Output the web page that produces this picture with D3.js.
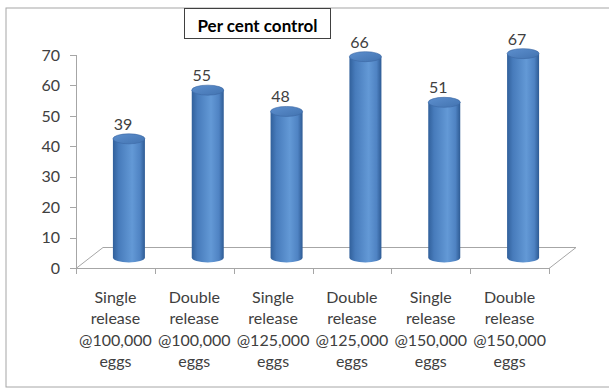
<!DOCTYPE html>
<html>
<head>
<meta charset="utf-8">
<script src="https://cdn.jsdelivr.net/npm/d3@7"></script>
<style>
  body { margin: 0; background: #fff; }
  svg { display: block; font-family: Lato, "Open Sans", sans-serif; }
</style>
</head>
<body>
<svg id="chart" width="609" height="389"></svg>
<script>
// data
const categories = [
    ["Single", "release", "@100,000", "eggs"],
    ["Double", "release", "@100,000", "eggs"],
    ["Single", "release", "@125,000", "eggs"],
    ["Double", "release", "@125,000", "eggs"],
    ["Single", "release", "@150,000", "eggs"],
    ["Double", "release", "@150,000", "eggs"]
];
const values = [39, 55, 48, 66, 51, 67];
const yTicks = [0, 10, 20, 30, 40, 50, 60, 70];
const title = "Per cent control";

const svg = d3.select("#chart");
const depth = { dx: 27, dy: -21 };   // 3d floor offset

const x = d3.scaleBand()
    .domain(d3.range(categories.length))
    .range([76, 549])
    .padding(0);

const y = d3.scaleLinear()
    .domain([0, 70])
    .range([268, 55]);

// outer frame
svg.append("rect")
    .attr("x", 6).attr("y", 8)
    .attr("width", 612).attr("height", 379)
    .attr("fill", "#fff")
    .attr("stroke", "#a6a6a6");

// gradients for cylinders
const defs = svg.append("defs");
const side = defs.append("linearGradient").attr("id", "side")
    .attr("x1", "0%").attr("x2", "100%").attr("y1", "0%").attr("y2", "0%");
[["0%", "#31609b"], ["18%", "#477bbb"], ["60%", "#6399d6"], ["85%", "#4f83c3"], ["100%", "#2e5b94"]]
    .forEach(([o, c]) => side.append("stop").attr("offset", o).attr("stop-color", c));
const topG = defs.append("linearGradient").attr("id", "topcap")
    .attr("x1", "0%").attr("x2", "100%").attr("y1", "0%").attr("y2", "100%");
[["0%", "#5d8fce"], ["100%", "#4273b0"]]
    .forEach(([o, c]) => topG.append("stop").attr("offset", o).attr("stop-color", c));

// floor
const floor = svg.append("g")
    .attr("fill", "none")
    .attr("stroke", "#a6a6a6")
    .attr("stroke-width", 1);
const x0 = x.range()[0], x1 = x.range()[1], yb = y(0);
floor.append("path")
    .attr("d", `M${x0},${yb + 0.5}L${x1},${yb + 0.5}L${x1 + depth.dx},${yb + depth.dy + 0.5}L${x0 + depth.dx},${yb + depth.dy + 0.5}Z`);

// y axis
const yAxis = svg.append("g");
yAxis.append("line")
    .attr("x1", x0 + 0.5).attr("x2", x0 + 0.5)
    .attr("y1", y(70)).attr("y2", yb)
    .attr("stroke", "#a6a6a6");
yAxis.selectAll("line.tick")
    .data(yTicks)
    .join("line")
    .attr("class", "tick")
    .attr("x1", x0 - 6).attr("x2", x0)
    .attr("y1", d => Math.round(y(d)) + 0.5)
    .attr("y2", d => Math.round(y(d)) + 0.5)
    .attr("stroke", "#a6a6a6");
yAxis.selectAll("text")
    .data(yTicks)
    .join("text")
    .attr("x", x0 - 16)
    .attr("y", d => y(d))
    .attr("dy", "0.36em")
    .attr("text-anchor", "end")
    .attr("font-size", "16px")
    .attr("fill", "#404040")
    .text(d => d);

// x ticks on the front edge
svg.append("g").selectAll("line")
    .data(d3.range(categories.length + 1))
    .join("line")
    .attr("x1", i => Math.round(x0 + i * x.bandwidth()) + 0.5)
    .attr("x2", i => Math.round(x0 + i * x.bandwidth()) + 0.5)
    .attr("y1", yb).attr("y2", yb + 6)
    .attr("stroke", "#a6a6a6");

// category labels
svg.append("g").selectAll("text")
    .data(categories)
    .join("text")
    .attr("text-anchor", "middle")
    .attr("font-size", "16px")
    .attr("fill", "#404040")
    .each(function(lines, i) {
        d3.select(this).selectAll("tspan")
            .data(lines)
            .join("tspan")
            .attr("x", x(i) + x.bandwidth() / 2)
            .attr("y", (d, j) => 302.5 + j * 21.5)
            .text(d => d);
    });

// cylinders, placed at mid depth
const rx = 16, ry = 5;
const cx = i => x(i) + x.bandwidth() / 2 + depth.dx / 2;
const ymid = v => y(v) + depth.dy / 2;

const bars = svg.append("g").selectAll("g")
    .data(values)
    .join("g");

bars.append("path")
    .attr("d", (v, i) => {
        const l = cx(i) - rx, r = cx(i) + rx, t = ymid(v), b = ymid(0);
        return `M${l},${t}L${l},${b}A${rx},${ry} 0 0 0 ${r},${b}L${r},${t}Z`;
    })
    .attr("fill", "url(#side)");

bars.append("ellipse")
    .attr("cx", (v, i) => cx(i))
    .attr("cy", v => ymid(v))
    .attr("rx", rx).attr("ry", ry)
    .attr("fill", "url(#topcap)")
    .attr("stroke", "#3a67a2")
    .attr("stroke-width", 0.6);

// value labels
bars.append("text")
    .attr("x", (v, i) => cx(i) - 6)
    .attr("y", v => ymid(v) - 9)
    .attr("text-anchor", "middle")
    .attr("font-size", "16px")
    .attr("fill", "#404040")
    .text(v => v);

// title box
const tg = svg.append("g");
tg.append("rect")
    .attr("x", 184.5).attr("y", 8.5)
    .attr("width", 146).attr("height", 30)
    .attr("fill", "#fff")
    .attr("stroke", "#404040");
tg.append("text")
    .attr("x", 257.5).attr("y", 32)
    .attr("text-anchor", "middle")
    .attr("font-size", "17px")
    .attr("font-weight", "bold")
    .attr("fill", "#000")
    .text(title);
</script>
</body>
</html>
